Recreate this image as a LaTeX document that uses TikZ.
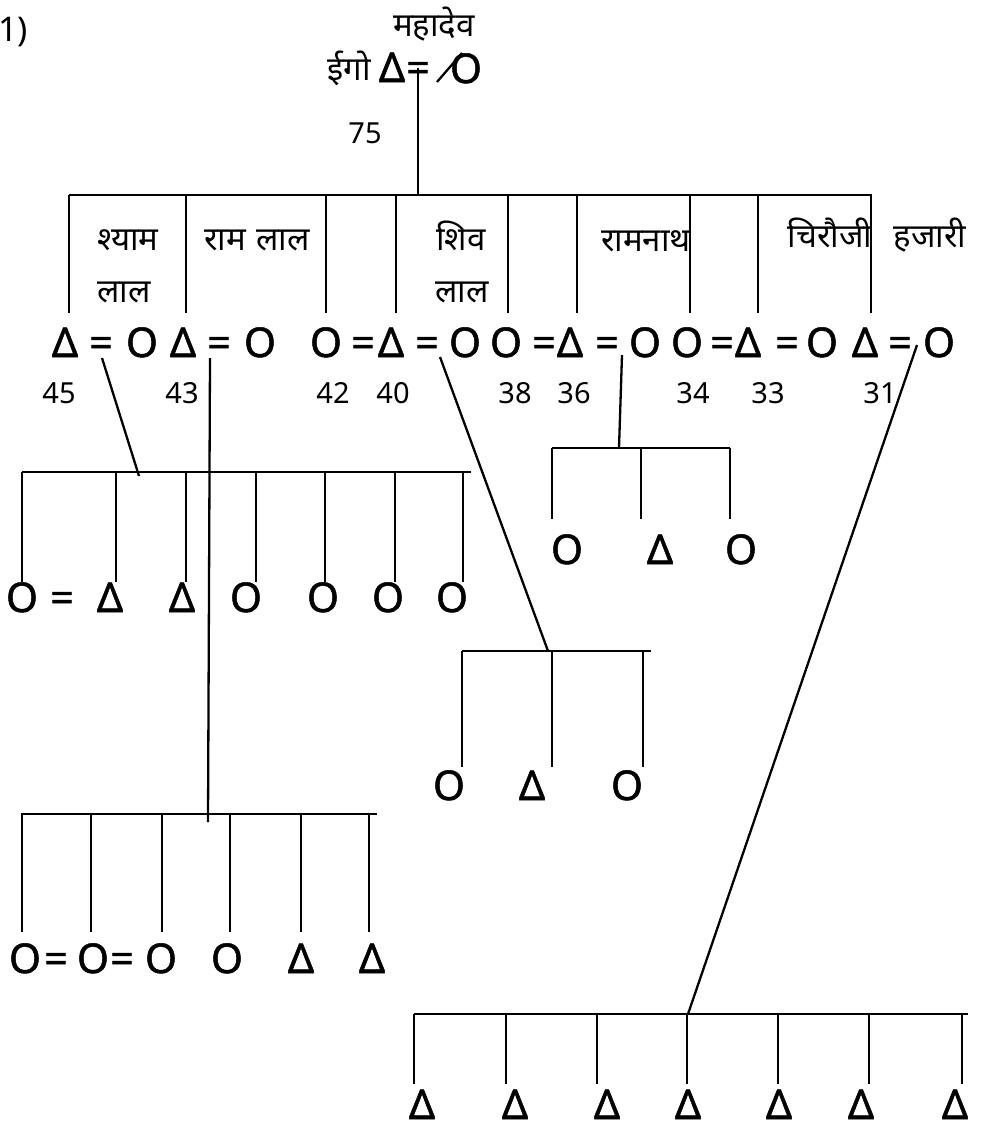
\documentclass[tikz,border=0pt]{standalone}
\usepackage{fontspec}
\setmainfont{Noto Sans}
\newfontfamily\devfont[Script=Devanagari]{Noto Sans}
\newfontfamily\symfont[FakeBold=1.3]{Noto Sans}
\newcommand\symsize{\symfont\fontsize{41}{41}\selectfont}
\newcommand\numsize{\fontsize{29}{29}\selectfont}
\newcommand\lblsize{\fontsize{33}{33}\selectfont}
\newcommand\eqs{=}
\begin{document}
\begin{tikzpicture}[x=1pt,y=-1pt,
  sym/.style={font=\symsize, inner sep=0pt, anchor=base},
  num/.style={font=\numsize, inner sep=0pt},
  lbl/.style={font=\devfont\lblsize, inner sep=0pt, anchor=base},
  ln/.style={line width=2.3pt}]
\useasboundingbox (0,0) rectangle (980,1132);

% figure number
\node[font=\fontsize{34}{34}\selectfont, inner sep=0pt, anchor=base west] (fig) at (-2,42) {1)};

% top couple
\node[lbl] (mahadev) at (434,37) {महादेव};
\node[lbl] (ego) at (349,81) {ईगो};
\node[sym] (t1) at (392,82) {Δ};
\node[sym] (t2) at (418,82) {\eqs};
\node[sym] (t3) at (466,83) {O};
\coordinate (sl1) at (437,82);
\coordinate (sl2) at (462,53);
\draw[ln] (sl1) -- (sl2);
\node[num] (n75) at (365,133) {75};
\coordinate (topd) at (418,68);
\coordinate (topb) at (418,195);
\draw[ln] (topd) -- (topb);

% bar 1
\coordinate (b1l) at (69,195);
\coordinate (b1r) at (872,195);
\draw[ln] (b1l) -- (b1r);
\foreach \x [count=\i] in {69,186,326,396,508,577,690,758,871}{
  \coordinate (b1u-\i) at (\x,195);
  \coordinate (b1d-\i) at (\x,313);
  \draw[ln] (b1u-\i) -- (b1d-\i);
}

% labels of the sons
\node[lbl] (l1) at (128,250) {श्याम};
\node[lbl] (l1b) at (124,302) {लाल};
\node[lbl] (l2) at (257,250) {राम\hspace{10pt}लाल};
\node[lbl] (l3) at (461,250) {शिव};
\node[lbl] (l3b) at (462,302) {लाल};
\node[lbl] (l4) at (646,251) {रामनाथ};
\node[lbl] (l5) at (830,247) {चिरौजी};
\node[lbl] (l6) at (930,247) {हजारी};

% row 2
\foreach \x/\s [count=\i] in {65/Δ,101/\eqs,142/O,183/Δ,219/\eqs,260/O,326/O,363/\eqs,391/Δ,427/\eqs,465/O,506/O,544/\eqs,570/Δ,607/\eqs,645/O,687/O,722/\eqs,748/Δ,787/\eqs,822/O,865/Δ,900/\eqs,939/O}{
  \node[sym] (r2-\i) at (\x,357) {\s};
}
\foreach \x/\s [count=\i] in {59/45,182/43,333/42,393/40,515/38,574/36,693/34,768/33,880/31}{
  \node[num] (age-\i) at (\x,393) {\s};
}

% descent lines
\coordinate (d1a) at (102,358); \coordinate (d1b) at (139,476);
\coordinate (d2a) at (210,358); \coordinate (d2b) at (208,822);
\coordinate (d3a) at (440,357); \coordinate (d3b) at (548,651);
\coordinate (d4a) at (622,355); \coordinate (d4b) at (619,448);
\coordinate (d5a) at (917,345); \coordinate (d5b) at (688,1014);
\draw[ln] (d1a) -- (d1b);
\draw[ln] (d2a) -- (d2b);
\draw[ln] (d3a) -- (d3b);
\draw[ln] (d4a) -- (d4b);
\draw[ln] (d5a) -- (d5b);

% bar 2: Shyam Lal's children
\coordinate (b2l) at (22,472); \coordinate (b2r) at (471,472);
\draw[ln] (b2l) -- (b2r);
\foreach \x [count=\i] in {22,116,186,256,325,395,463}{
  \coordinate (b2u-\i) at (\x,472);
  \coordinate (b2d-\i) at (\x,582);
  \draw[ln] (b2u-\i) -- (b2d-\i);
}
\foreach \x/\s [count=\i] in {22/O,62/\eqs,110/Δ,182/Δ,246/O,323/O,388/O,452/O}{
  \node[sym] (r3-\i) at (\x,612) {\s};
}

% bar 3: Ram Lal's children
\coordinate (b3l) at (21,814); \coordinate (b3r) at (377,814);
\draw[ln] (b3l) -- (b3r);
\foreach \x [count=\i] in {22,91,162,230,301,369}{
  \coordinate (b3u-\i) at (\x,814);
  \coordinate (b3d-\i) at (\x,932);
  \draw[ln] (b3u-\i) -- (b3d-\i);
}
\foreach \x/\s [count=\i] in {25/O,56/\eqs,93/O,122/\eqs,161/O,227/O,301/Δ,372/Δ}{
  \node[sym] (r4-\i) at (\x,973) {\s};
}

% bar 4: Shiv Lal's children
\coordinate (b4l) at (462,651); \coordinate (b4r) at (651,651);
\draw[ln] (b4l) -- (b4r);
\foreach \x [count=\i] in {462,552,643}{
  \coordinate (b4u-\i) at (\x,651);
  \coordinate (b4d-\i) at (\x,767);
  \draw[ln] (b4u-\i) -- (b4d-\i);
}
\foreach \x/\s [count=\i] in {449/O,532/Δ,627/O}{
  \node[sym] (ra-\i) at (\x,800) {\s};
}

% bar 5: Ramnath's children
\coordinate (b5l) at (552,448); \coordinate (b5r) at (730,448);
\draw[ln] (b5l) -- (b5r);
\foreach \x [count=\i] in {552,641,730}{
  \coordinate (b5u-\i) at (\x,448);
  \coordinate (b5d-\i) at (\x,519);
  \draw[ln] (b5u-\i) -- (b5d-\i);
}
\foreach \x/\s [count=\i] in {567/O,660/Δ,741/O}{
  \node[sym] (rb-\i) at (\x,564) {\s};
}

% bar 6: Hazari's children
\coordinate (b6l) at (414,1014); \coordinate (b6r) at (968,1014);
\draw[ln] (b6l) -- (b6r);
\foreach \x [count=\i] in {414,506,597,687,778,869,962}{
  \coordinate (b6u-\i) at (\x,1014);
  \coordinate (b6d-\i) at (\x,1084);
  \draw[ln] (b6u-\i) -- (b6d-\i);
}
\foreach \x [count=\i] in {422,515,607,688,779,861,955}{
  \node[sym] (rc-\i) at (\x,1119) {Δ};
}
\end{tikzpicture}
\end{document}
